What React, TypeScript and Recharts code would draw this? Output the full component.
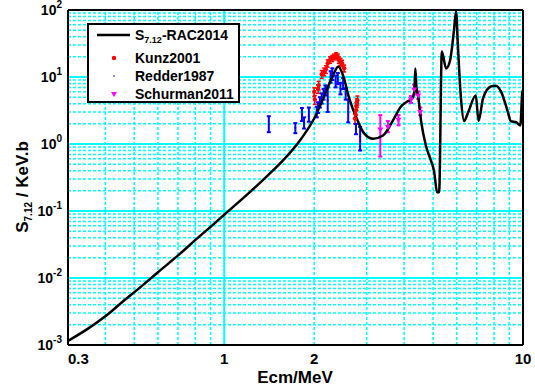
import React from 'react';
import { ComposedChart, Line, Scatter, XAxis, YAxis, ErrorBar, ReferenceLine } from 'recharts';

// S7.12-RAC2014 curve (Ecm in MeV, S in KeV.b)
const racE = [0.3, 0.351, 0.403, 0.459, 0.528, 0.6, 0.707, 0.812, 0.912, 1.0, 1.2, 1.4, 1.55, 1.81, 2.0, 2.19, 2.31, 2.41, 2.5, 2.62, 2.8, 2.94, 3.15, 3.4, 3.7, 3.9, 4.1, 4.25, 4.33, 4.36, 4.4, 4.46, 4.56, 4.73, 4.93, 5.04, 5.16, 5.24, 5.35, 5.53, 5.7, 5.87, 5.97, 6.06, 6.2, 6.35, 6.54, 6.95, 7.1, 7.35, 7.8, 8.1, 8.45, 8.9, 9.1, 9.5, 9.8, 9.95, 10];
const racS = [0.00115, 0.00177, 0.00275, 0.0045, 0.0075, 0.0122, 0.0225, 0.039, 0.061, 0.088, 0.18, 0.34, 0.53, 1.2, 2.4, 6, 10.5, 14.4, 10.5, 4.8, 2.2, 1.44, 1.2, 1.34, 2.4, 3.6, 4.3, 4.7, 6, 13.4, 7, 5.0, 2.2, 0.95, 0.55, 0.39, 0.19, 0.19, 24, 13.4, 17.6, 48, 95, 27, 4.8, 2.2, 2.9, 5.3, 2.2, 4.8, 7.2, 7.4, 6, 3, 2.2, 2.1, 1.9, 6, 6.3];

// Kunz2001
const kunzE = [2.0, 2.01, 2.06, 2.07, 2.12, 2.16, 2.19, 2.22, 2.26, 2.3, 2.33, 2.37, 2.4, 2.42, 2.45, 2.48, 2.52, 2.74, 2.75, 2.76, 2.77, 2.78, 2.79];
const kunzS = [6, 4.6, 6.7, 7.5, 11, 12, 13, 16, 18, 19, 20, 21, 20, 18, 17, 16, 13.5, 2.4, 2.8, 3.2, 3.7, 4.1, 4.5];
const kunzErr = [0.9, 0.7, 1.0, 1.1, 1.5, 1.6, 1.7, 2, 2, 2, 2, 2, 2, 2, 2, 1.8, 1.6, 0.4, 0.4, 0.5, 0.5, 0.6, 0.7];

// Redder1987
const redderE = [1.41, 1.73, 1.82, 1.85, 1.92, 2.04, 2.06, 2.09, 2.12, 2.15, 2.18, 2.22, 2.27, 2.3, 2.36, 2.4, 2.45, 2.5, 2.55, 2.6, 2.76, 2.85];
const redderS = [1.95, 1.75, 2.85, 2.1, 2.6, 3.0, 3.5, 4.2, 4.8, 5.5, 6.3, 4.5, 10, 11, 8.5, 9.5, 6.7, 8, 5.6, 3.0, 1.7, 1.3];
const redderLo = [0.45, 0.3, 0.65, 0.4, 0.45, 0.5, 0.6, 0.7, 0.8, 0.9, 1.0, 1.5, 1.8, 2, 1.5, 1.7, 1.2, 1.4, 1.0, 0.9, 0.3, 0.5];
const redderHi = [0.65, 0.3, 0.6, 0.4, 0.9, 0.6, 0.7, 0.8, 0.9, 1.1, 1.2, 2.5, 2.2, 2.5, 2, 2, 1.5, 1.6, 1.2, 1.6, 0.3, 0.5];

// Schurman2011
const schurE = [3.33, 3.53, 3.83, 4.22, 4.32, 4.46, 4.53];
const schurS = [1.65, 1.8, 2.3, 4.6, 6.5, 5.3, 3.0];
const schurLo = [1.0, 0.3, 0.4, 0.5, 1.0, 0.6, 0.3];
const schurHi = [1.05, 0.4, 0.4, 0.6, 1.2, 0.8, 0.5];

const xTicks = [0.3, 1, 2, 10];
const yTicks = [0.001, 0.01, 0.1, 1, 10, 100];
const xMinorGrid = [0.4, 0.5, 0.6, 0.7, 0.8, 0.9, 2, 3, 4, 5, 6, 7, 8, 9];
const xMajorGrid = [1];
const yMajorGrid = [0.01, 0.1, 1, 10];
const yDecades = [0.001, 0.01, 0.1, 1, 10];
const yMinorGrid = yDecades.flatMap((d) => [2, 3, 4, 5, 6, 7, 8, 9].map((k) => +(k * d).toPrecision(3)));

const curve = racE.map((e, i) => ({ e, s: racS[i] }));
const kunz = kunzE.map((e, i) => ({ e, s: kunzS[i], err: kunzErr[i] }));
const redder = redderE.map((e, i) => ({ e, s: redderS[i], err: [redderLo[i], redderHi[i]] }));
const schurman = schurE.map((e, i) => ({ e, s: schurS[i], err: [schurLo[i], schurHi[i]] }));

const FONT = '"Liberation Sans", Arial, sans-serif';
const CYAN = '#00FFFF';

const YTick = ({ x, y, payload }: any) => {
  const exp = Math.round(Math.log10(payload.value));
  return (
    <text x={x} y={y + 5} textAnchor="end" fontFamily={FONT} fontWeight="bold" fontSize={14} fill="#000">
      <tspan>10</tspan>
      <tspan dy={-7} fontSize={10}>{exp}</tspan>
    </text>
  );
};

const XTick = ({ x, y, payload, index }: any) => (
  <text x={x} y={y + 17} textAnchor={index === 0 ? 'start' : 'middle'} fontFamily={FONT} fontWeight="bold" fontSize={15} fill="#000">
    {payload.value}
  </text>
);

const RedDot = ({ cx, cy }: any) => <circle cx={cx} cy={cy} r={2.2} fill="#FF0000" />;
const BlueDot = ({ cx, cy }: any) => <circle cx={cx} cy={cy} r={1} fill="#0000FF" />;
const MagentaTri = ({ cx, cy }: any) => (
  <path d={`M${cx - 3},${cy - 2} L${cx + 3},${cy - 2} L${cx},${cy + 3} Z`} fill="#FF00FF" />
);

const ChartLegend = () => (
  <svg width={155} height={82} style={{ position: 'absolute', left: 87, top: 23 }}>
    <rect x={1} y={1} width={151} height={78} fill="#fff" stroke="#000" strokeWidth={2} />
    <line x1={10} y1={12} x2={43} y2={12} stroke="#000" strokeWidth={2.5} />
    <text x={48} y={17} fontFamily={FONT} fontWeight="bold" fontSize={14}>
      <tspan>S</tspan>
      <tspan fontSize={9} dy={3}>7.12</tspan>
      <tspan dy={-3}>-RAC2014</tspan>
    </text>
    <circle cx={27} cy={35} r={2.2} fill="#FF0000" />
    <text x={48} y={40} fontFamily={FONT} fontWeight="bold" fontSize={14}>Kunz2001</text>
    <circle cx={27} cy={53} r={0.8} fill="#0000FF" />
    <text x={48} y={58} fontFamily={FONT} fontWeight="bold" fontSize={14}>Redder1987</text>
    <path d="M24,69 L30,69 L27,74 Z" fill="#FF00FF" />
    <text x={48} y={76} fontFamily={FONT} fontWeight="bold" fontSize={14}>Schurman2011</text>
  </svg>
);

const YLabel = () => (
  <text transform="translate(28,187) rotate(-90)" textAnchor="middle" fontFamily={FONT} fontWeight="bold" fontSize={17} fill="#000">
    <tspan>S</tspan>
    <tspan fontSize={10} dy={4}>7.12</tspan>
    <tspan dy={-4}> / KeV.b</tspan>
  </text>
);

const XLabel = () => (
  <text x={295} y={383} textAnchor="middle" fontFamily={FONT} fontWeight="bold" fontSize={17} fill="#000">
    Ecm/MeV
  </text>
);

export default function App() {
  return (
    <div style={{ position: 'absolute', left: 0, top: 0, width: 535, height: 389, background: '#fff' }}>
      <ComposedChart width={535} height={389} margin={{ top: 10, right: 12, bottom: 14, left: 18 }}>
        <XAxis
          dataKey="e"
          type="number"
          scale="log"
          domain={[0.3, 10]}
          allowDataOverflow
          ticks={xTicks}
          tick={<XTick />}
          tickLine={false}
          tickSize={0}
          height={30}
          axisLine={{ stroke: '#000', strokeWidth: 2 }}
          label={{ content: () => <XLabel /> }}
        />
        <YAxis
          type="number"
          scale="log"
          domain={[0.001, 100]}
          allowDataOverflow
          ticks={yTicks}
          tick={<YTick />}
          tickLine={false}
          tickSize={0}
          tickMargin={6}
          width={50}
          axisLine={{ stroke: '#000', strokeWidth: 2 }}
          label={{ content: () => <YLabel /> }}
        />
        {yMinorGrid.map((v) => (
          <ReferenceLine key={`ym${v}`} y={v} stroke={CYAN} strokeWidth={1.5} strokeDasharray="3 2" />
        ))}
        {xMinorGrid.map((v) => (
          <ReferenceLine key={`xm${v}`} x={v} stroke={CYAN} strokeWidth={1.5} strokeDasharray="3 2" />
        ))}
        {yMajorGrid.map((v) => (
          <ReferenceLine key={`yM${v}`} y={v} stroke={CYAN} strokeWidth={2} />
        ))}
        {xMajorGrid.map((v) => (
          <ReferenceLine key={`xM${v}`} x={v} stroke={CYAN} strokeWidth={2} />
        ))}
        <ReferenceLine y={100} stroke="#000" strokeWidth={2} />
        <ReferenceLine x={10} stroke="#000" strokeWidth={2} />
        <Scatter data={kunz} dataKey="s" shape={<RedDot />} isAnimationActive={false}>
          <ErrorBar dataKey="err" direction="y" width={2} stroke="#FF0000" strokeWidth={1.5} />
        </Scatter>
        <Scatter data={redder} dataKey="s" shape={<BlueDot />} isAnimationActive={false}>
          <ErrorBar dataKey="err" direction="y" width={2} stroke="#0000FF" strokeWidth={2} />
        </Scatter>
        <Scatter data={schurman} dataKey="s" shape={<MagentaTri />} isAnimationActive={false}>
          <ErrorBar dataKey="err" direction="y" width={2} stroke="#FF00FF" strokeWidth={2} />
        </Scatter>
        <Line data={curve} dataKey="s" type="monotone" stroke="#000" strokeWidth={2.5} dot={false} isAnimationActive={false} />
      </ComposedChart>
      <ChartLegend />
    </div>
  );
}
